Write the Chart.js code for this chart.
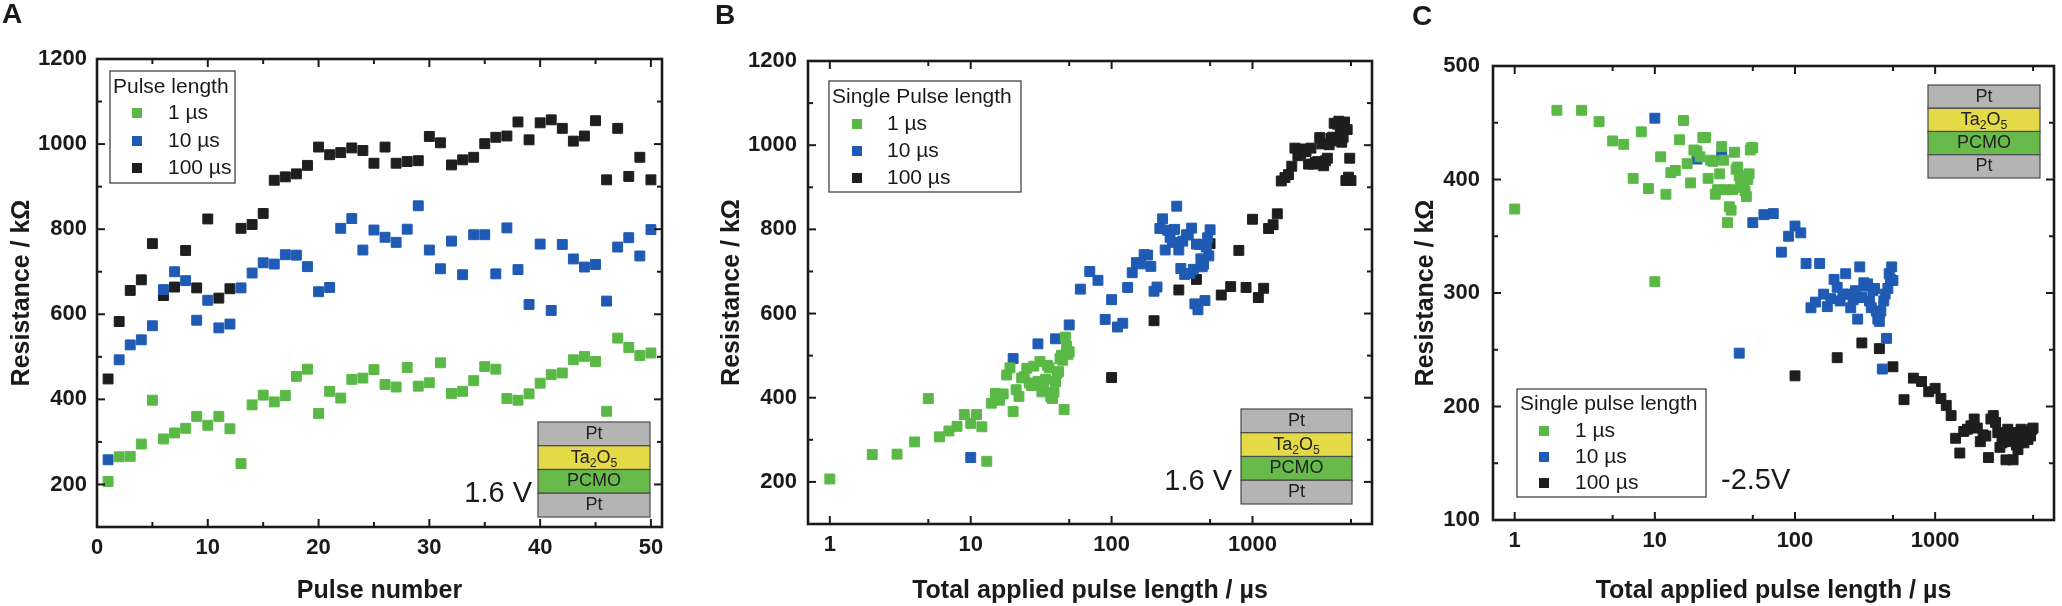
<!DOCTYPE html>
<html>
<head>
<meta charset="utf-8">
<script src="https://cdn.jsdelivr.net/npm/chart.js@4.4.1/dist/chart.umd.min.js"></script>
<style>
html, body { margin: 0; padding: 0; background: #fff; }
#wrap { position: relative; width: 2062px; height: 606px; overflow: hidden; }
.panel { position: absolute; top: 0; height: 606px; }
</style>
</head>
<body>
<div id="wrap">
  <div class="panel" style="left:0;width:690px"><canvas id="chartA"></canvas></div>
  <div class="panel" style="left:690px;width:690px"><canvas id="chartB"></canvas></div>
  <div class="panel" style="left:1380px;width:682px"><canvas id="chartC"></canvas></div>
</div>
<script>
// pulse index and single pulse lengths (µs)
const pulseNo = [1,2,3,4,5,6,7,8,9,10,11,12,13,14,15,16,17,18,19,20,21,22,23,24,25,
                 26,27,28,29,30,31,32,33,34,35,36,37,38,39,40,41,42,43,44,45,46,47,48,49,50];
const pulseLengths = [1, 10, 100];
const seriesNames = ['1 µs', '10 µs', '100 µs'];

// 1.6 V set pulses, resistance in kOhm (panels A and B)
const setR1 = [207,265,266,295,398,307,321,332,360,339,360,331,249,387,410,394,409,454,471,367,
               419,403,447,450,470,435,429,475,431,439,486,414,419,444,477,471,402,398,413,438,
               458,462,493,501,489,372,544,522,503,509];
const setR10 = [258,493,528,540,573,658,700,679,586,633,568,577,662,697,721,718,740,739,712,653,
                663,802,825,751,798,781,769,800,855,751,707,772,693,787,787,695,803,705,623,765,
                609,764,730,711,717,631,758,780,737,799];
const setR100 = [448,583,656,681,766,644,664,750,662,824,638,660,802,811,837,915,923,930,950,993,
                 975,980,991,985,955,993,955,959,961,1018,1003,951,963,969,1001,1016,1019,1052,1010,1050,
                 1057,1037,1007,1019,1055,916,1037,924,969,916];

// -2.5 V reset pulses (panel C)
const resetR1 = [374,461,461,451,434,431,401,442,392,310,420,387,406,408,435,452,414,397,426,425,
                 420,437,437,401,417,416,387,391,405,429,417,391,362,376,373,391,424,409,411,403,
                 400,393,396,390,385,400,405,426,428,428];
const resetR10 = [454,418,422,247,362,369,370,336,350,359,353,326,287,292,326,299,288,295,312,305,
                  293,299,317,299,287,294,302,277,323,296,309,306,308,293,287,302,304,284,277,275,
                  284,233,293,299,260,304,317,312,323,311];
const resetR100 = [227,243,256,251,235,206,225,222,213,216,207,201,192,172,159,178,180,183,189,181,
                   169,175,174,155,189,192,186,177,164,168,172,153,180,169,174,153,177,166,162,171,
                   180,175,168,174,178,171,177,174,180,181];

// tick labels
const xTicksA = [0, 10, 20, 30, 40, 50];
const xMinorA = [5, 15, 25, 35, 45];
const logTicks = [1, 10, 100, 1000];
const logMinor = [5, 50, 500, 5000];
const yTicksSet = [200, 400, 600, 800, 1000, 1200];
const yMinorSet = [100, 300, 500, 700, 900, 1100];
const yTicksReset = [100, 200, 300, 400, 500];
const yMinorReset = [150, 250, 350, 450];

const fontFamily = "'Liberation Sans', Arial, Helvetica, sans-serif";
Chart.defaults.font.family = fontFamily;
Chart.defaults.color = '#1a1a1a';
const ink = '#1a1a1a';
const markColors = ['#5ab946', '#1f5bb4', '#1e1e1e'];

function makeDatasets(xLists, yLists) {
    return seriesNames.map((name, k) => ({
        label: name,
        data: yLists[k].map((r, i) => ({ x: xLists[k][i], y: r })),
        pointStyle: 'rect',
        pointRadius: 7,
        pointHoverRadius: 7,
        backgroundColor: markColors[k],
        borderColor: markColors[k],
        borderWidth: 1
    }));
}

// closed frame with inward ticks on all four sides
const framePlugin = {
    id: 'frame',
    afterDatasetsDraw(chart, args, o) {
        const ctx = chart.ctx, a = chart.chartArea, x = chart.scales.x, y = chart.scales.y;
        ctx.save();
        ctx.strokeStyle = ink;
        ctx.lineWidth = 2;
        const seg = (x1, y1, x2, y2) => { ctx.beginPath(); ctx.moveTo(x1, y1); ctx.lineTo(x2, y2); ctx.stroke(); };
        const xt = (list, len) => list.forEach(v => {
            const p = x.getPixelForValue(v);
            seg(p, a.bottom, p, a.bottom - len);
            seg(p, a.top, p, a.top + len);
        });
        const yt = (list, len) => list.forEach(v => {
            const p = y.getPixelForValue(v);
            seg(a.left, p, a.left + len, p);
            seg(a.right, p, a.right - len, p);
        });
        xt(o.xMajor, 8); xt(o.xMinor, 5);
        yt(o.yMajor, 8); yt(o.yMinor, 5);
        ctx.lineWidth = 2.6;
        ctx.strokeRect(a.left, a.top, a.right - a.left, a.bottom - a.top);
        ctx.restore();
    }
};

const boxLegendPlugin = {
    id: 'boxLegend',
    afterDraw(chart, args, o) {
        const ctx = chart.ctx;
        ctx.save();
        ctx.fillStyle = '#fff';
        ctx.fillRect(o.x, o.y, o.w, o.h);
        ctx.strokeStyle = '#444';
        ctx.lineWidth = 1.3;
        ctx.strokeRect(o.x, o.y, o.w, o.h);
        ctx.font = '21px ' + fontFamily;
        ctx.textBaseline = 'middle';
        ctx.textAlign = 'left';
        ctx.fillStyle = ink;
        ctx.fillText(o.title, o.titleX, o.titleY);
        chart.data.datasets.forEach((ds, i) => {
            const ry = o.rowY[i];
            ctx.fillStyle = ds.backgroundColor;
            ctx.fillRect(o.markX - 5, ry - 5, 10, 10);
            ctx.fillStyle = ink;
            ctx.fillText(ds.label, o.textX, ry);
        });
        ctx.restore();
    }
};

function richText(ctx, parts, cx, cy, size) {
    let w = 0;
    parts.forEach(p => {
        ctx.font = (p[1] ? size * 0.68 : size) + 'px ' + fontFamily;
        w += ctx.measureText(p[0]).width;
    });
    let x = cx - w / 2;
    parts.forEach(p => {
        ctx.font = (p[1] ? size * 0.68 : size) + 'px ' + fontFamily;
        ctx.fillText(p[0], x, p[1] ? cy + size * 0.32 : cy);
        x += ctx.measureText(p[0]).width;
    });
}

const layers = [
    { fill: '#b4b4b4', parts: [['Pt']] },
    { fill: '#e4da48', parts: [['Ta'], ['2', 1], ['O'], ['5', 1]] },
    { fill: '#68bb4a', parts: [['PCMO']] },
    { fill: '#b4b4b4', parts: [['Pt']] }
];

const stackPlugin = {
    id: 'stack',
    afterDraw(chart, args, o) {
        const ctx = chart.ctx;
        const lh = o.h / layers.length;
        ctx.save();
        ctx.textBaseline = 'middle';
        ctx.textAlign = 'left';
        layers.forEach((l, i) => {
            const ty = o.y + i * lh;
            ctx.fillStyle = l.fill;
            ctx.fillRect(o.x, ty, o.w, lh);
            ctx.strokeStyle = '#4a4a4a';
            ctx.lineWidth = 1.2;
            ctx.strokeRect(o.x, ty, o.w, lh);
            ctx.fillStyle = '#222';
            richText(ctx, l.parts, o.x + o.w / 2, ty + lh / 2, 18);
        });
        ctx.font = '29px ' + fontFamily;
        ctx.textAlign = o.align;
        ctx.fillStyle = ink;
        ctx.fillText(o.volt, o.vx, o.vy);
        ctx.restore();
    }
};

const letterPlugin = {
    id: 'panelLetter',
    afterDraw(chart, args, o) {
        const ctx = chart.ctx;
        ctx.save();
        ctx.font = 'bold 28px ' + fontFamily;
        ctx.textAlign = 'center';
        ctx.textBaseline = 'middle';
        ctx.fillStyle = ink;
        ctx.fillText(o.text, o.x, o.y);
        ctx.restore();
    }
};

function buildChart(id, o) {
    return new Chart(document.getElementById(id), {
        type: 'scatter',
        data: { datasets: makeDatasets(o.xs, o.ys) },
        options: {
            responsive: true,
            maintainAspectRatio: false,
            animation: false,
            events: [],
            layout: { padding: { left: 0, top: o.top, right: o.right, bottom: 0 } },
            scales: {
                x: {
                    type: o.xType,
                    min: o.xMin,
                    max: o.xMax,
                    grid: { display: false, drawTicks: false },
                    border: { display: false },
                    afterBuildTicks: s => { s.ticks = o.xTicks.map(v => ({ value: v })); },
                    afterFit: s => { s.height = o.xH; },
                    ticks: {
                        autoSkip: false, maxRotation: 0, padding: 8, color: ink,
                        font: { size: 22, weight: 'bold' },
                        callback: v => String(v)
                    },
                    title: {
                        display: true, text: o.xTitle, color: ink,
                        font: { size: 25, weight: 'bold' },
                        padding: { top: 0, bottom: 0 }
                    }
                },
                y: {
                    type: 'linear',
                    min: o.yMin,
                    max: o.yMax,
                    grid: { display: false, drawTicks: false },
                    border: { display: false },
                    afterBuildTicks: s => { s.ticks = o.yTicks.map(v => ({ value: v })); },
                    afterFit: s => { s.width = o.yW; },
                    ticks: {
                        autoSkip: false, padding: o.yPad, color: ink,
                        font: { size: 22, weight: 'bold' },
                        callback: v => String(v)
                    },
                    title: {
                        display: true, text: 'Resistance / kΩ', color: ink,
                        font: { size: 25, weight: 'bold' },
                        padding: { top: o.yTitlePad, bottom: 0 }
                    }
                }
            },
            plugins: {
                legend: { display: false },
                tooltip: { enabled: false },
                frame: { xMajor: o.xTicks, xMinor: o.xMinor, yMajor: o.yTicks, yMinor: o.yMinor },
                boxLegend: o.legend,
                stack: o.stack,
                panelLetter: o.letter
            }
        },
        plugins: [framePlugin, boxLegendPlugin, stackPlugin, letterPlugin]
    });
}

const setLists = [setR1, setR10, setR100];
const resetLists = [resetR1, resetR10, resetR100];
const totalLength = pulseLengths.map(len => pulseNo.map(n => n * len));

buildChart('chartA', {
    xs: [pulseNo, pulseNo, pulseNo], ys: setLists,
    xType: 'linear', xMin: 0, xMax: 51, xTicks: xTicksA, xMinor: xMinorA,
    yMin: 100, yMax: 1200, yTicks: yTicksSet, yMinor: yMinorSet,
    top: 59, right: 28, xH: 79, yW: 97, yPad: 10, yTitlePad: 7,
    xTitle: 'Pulse number',
    legend: { x: 110, y: 71, w: 125, h: 112, title: 'Pulse length', titleX: 113, titleY: 87,
              rowY: [113, 141, 168], markX: 137, textX: 168 },
    stack: { x: 538, y: 422, w: 112, h: 95, volt: '1.6 V', vx: 532, vy: 494, align: 'right' },
    letter: { text: 'A', x: 12, y: 15 }
});

buildChart('chartB', {
    xs: totalLength, ys: setLists,
    xType: 'logarithmic', xMin: 0.7, xMax: 7050, xTicks: logTicks, xMinor: logMinor,
    yMin: 100, yMax: 1200, yTicks: yTicksSet, yMinor: yMinorSet,
    top: 61, right: 7, xH: 82, yW: 118, yPad: 11, yTitlePad: 27,
    xTitle: 'Total applied pulse length / µs',
    legend: { x: 139, y: 81, w: 192, h: 111, title: 'Single Pulse length', titleX: 142, titleY: 97,
              rowY: [124, 151, 178], markX: 167, textX: 197 },
    stack: { x: 551, y: 409, w: 111, h: 95, volt: '1.6 V', vx: 542, vy: 482, align: 'right' },
    letter: { text: 'B', x: 35, y: 16 }
});

buildChart('chartC', {
    xs: totalLength, ys: resetLists,
    xType: 'logarithmic', xMin: 0.7, xMax: 7050, xTicks: logTicks, xMinor: logMinor,
    yMin: 100, yMax: 500, yTicks: yTicksReset, yMinor: yMinorReset,
    top: 66, right: 5, xH: 86, yW: 113, yPad: 13, yTitlePad: 31,
    xTitle: 'Total applied pulse length / µs',
    legend: { x: 137, y: 389, w: 189, h: 108, title: 'Single pulse length', titleX: 140, titleY: 404,
              rowY: [431, 457, 483], markX: 164, textX: 195 },
    stack: { x: 548, y: 85, w: 112, h: 93, volt: '-2.5V', vx: 341, vy: 481, align: 'left' },
    letter: { text: 'C', x: 42, y: 17 }
});
</script>
</body>
</html>
